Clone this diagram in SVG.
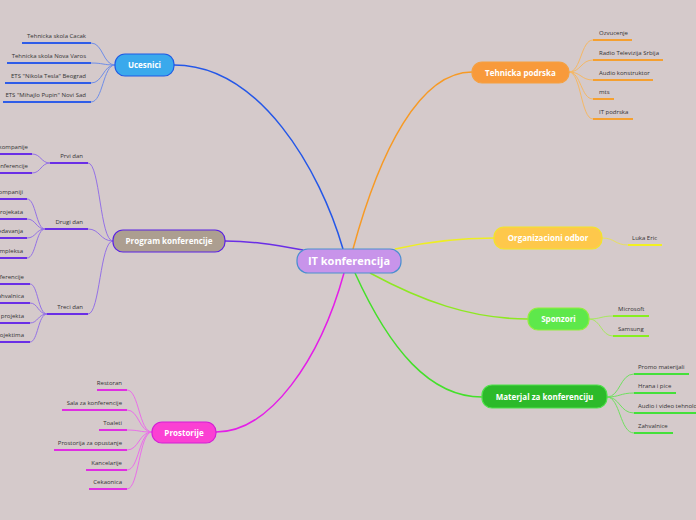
<svg xmlns="http://www.w3.org/2000/svg" width="696" height="520" viewBox="0 0 696 520">
<style>
.nt{font-family:"Open Sans","Noto Sans",sans-serif;font-weight:bold;font-size:8px;fill:#fff;text-anchor:middle}
.lt{font-family:"Open Sans","Noto Sans",sans-serif;font-size:6px;fill:#333}
.e{text-anchor:end}
.main{fill:none;stroke-width:1.5}
.sub{fill:none;stroke-width:1}
.ul{fill:none;stroke-width:2}
</style>
<rect width="696" height="520" fill="#d5cacb"/>
<g id="connectors">
  <path class="main" stroke="#2457e8" d="M343,249 C320,170 260,65 174,65"/>
  <path class="main" stroke="#f79a25" d="M353,249 C380,150 420,72 472,72"/>
  <path class="main" stroke="#6a2ee6" d="M303,250 C270,244 250,241 225,241"/>
  <path class="main" stroke="#eeee22" d="M395,249 C430,241 460,238 494,238"/>
  <path class="main" stroke="#8ee822" d="M370,273 C420,300 470,319 528,319"/>
  <path class="main" stroke="#44e02a" d="M355,273 C390,350 430,397 482,397"/>
  <path class="main" stroke="#e41ee8" d="M344,273 C320,360 270,432 216,432"/>
  <g stroke="#6f8ee8" class="sub">
    <path d="M115,65 C103,65 103,43 91,43"/>
    <path d="M115,65 C103,65 103,63 91,63"/>
    <path d="M115,65 C103,65 103,83 91,83"/>
    <path d="M115,65 C103,65 103,102 91,102"/>
  </g>
  <g stroke="#2f5de8" class="ul">
    <path d="M22,43 H91"/><path d="M7,63 H91"/><path d="M5,83 H91"/><path d="M3,102 H91"/>
  </g>
  <g stroke="#9471e6" class="sub">
    <path d="M113,241 C100,241 100,163 88,163"/>
    <path d="M113,241 C100,241 100,229 88,229"/>
    <path d="M113,241 C100,241 100,314 88,314"/>
    <path d="M50,163 C41,163 41,154 32,154"/>
    <path d="M50,163 C41,163 41,173 32,173"/>
    <path d="M45,229 C36,229 36,199 27,199"/>
    <path d="M45,229 C36,229 36,219 27,219"/>
    <path d="M45,229 C36,229 36,238 27,238"/>
    <path d="M45,229 C36,229 36,258 27,258"/>
    <path d="M47,314 C38,314 38,284 30,284"/>
    <path d="M47,314 C38,314 38,303 30,303"/>
    <path d="M47,314 C38,314 38,323 30,323"/>
    <path d="M47,314 C38,314 38,342 30,342"/>
  </g>
  <g stroke="#6a2ee6" class="ul">
    <path d="M50,163 H88"/><path d="M45,229 H88"/><path d="M47,314 H88"/>
    <path d="M0,154 H32"/><path d="M0,173 H32"/>
    <path d="M0,199 H27"/><path d="M0,219 H27"/><path d="M0,238 H27"/><path d="M0,258 H27"/>
    <path d="M0,284 H30"/><path d="M0,303 H30"/><path d="M0,323 H30"/><path d="M0,342 H30"/>
  </g>
  <g stroke="#ea6eea" class="sub">
    <path d="M152,432 C139,432 139,390 127,390"/>
    <path d="M152,432 C139,432 139,410 127,410"/>
    <path d="M152,432 C139,432 139,430 127,430"/>
    <path d="M152,432 C139,432 139,450 127,450"/>
    <path d="M152,432 C139,432 139,470 127,470"/>
    <path d="M152,432 C139,432 139,489 127,489"/>
  </g>
  <g stroke="#e02ee2" class="ul">
    <path d="M97,390 H127"/><path d="M62,410 H127"/><path d="M99,430 H127"/>
    <path d="M54,450 H127"/><path d="M86,470 H127"/><path d="M89,489 H127"/>
  </g>
  <g stroke="#f5b865" class="sub">
    <path d="M569,72 C581,72 581,40 593,40"/>
    <path d="M569,72 C581,72 581,60 593,60"/>
    <path d="M569,72 C581,72 581,80 593,80"/>
    <path d="M569,72 C581,72 581,99 593,99"/>
    <path d="M569,72 C581,72 581,119 593,119"/>
  </g>
  <g stroke="#f5a030" class="ul">
    <path d="M593,40 H632"/><path d="M593,60 H663"/><path d="M593,80 H653"/><path d="M593,99 H614"/><path d="M593,119 H633"/>
  </g>
  <path class="sub" stroke="#e8e060" d="M602,238 C615,238 615,245 628,245"/>
  <path class="ul" stroke="#f2f020" d="M628,245 H662"/>
  <g stroke="#a8e860" class="sub">
    <path d="M589,319 C601,319 601,316 613,316"/>
    <path d="M589,319 C601,319 601,336 613,336"/>
  </g>
  <g stroke="#88ee20" class="ul">
    <path d="M613,316 H649"/><path d="M613,336 H649"/>
  </g>
  <g stroke="#70e060" class="sub">
    <path d="M607,397 C620,397 620,374 634,374"/>
    <path d="M607,397 C620,397 620,393 634,393"/>
    <path d="M607,397 C620,397 620,413 634,413"/>
    <path d="M607,397 C620,397 620,433 634,433"/>
  </g>
  <g stroke="#44e03a" class="ul">
    <path d="M634,374 H689"/><path d="M634,393 H676"/><path d="M634,413 H696"/><path d="M634,433 H673"/>
  </g>
</g>
<g id="n-center"><rect x="297" y="249" width="104" height="24" rx="11" fill="#c894ea" stroke="#4a8fd0" stroke-width="1.2"/><text class="nt" x="349" y="265" style="font-size:11px">IT konferencija</text></g>
<g id="n-ucesnici"><rect x="115" y="54" width="59" height="22" rx="10" fill="#3aa9ec" stroke="#1f5be5" stroke-width="1.2"/><text class="nt" x="144.5" y="68">Ucesnici</text></g>
<g id="n-program"><rect x="113" y="230" width="112" height="22" rx="10" fill="#ac9e90" stroke="#5b22e3" stroke-width="1.2"/><text class="nt" x="169" y="244">Program konferencije</text></g>
<g id="n-prostorije"><rect x="152" y="422" width="64" height="21" rx="10" fill="#fb40d3" stroke="#d31fd6" stroke-width="1.2"/><text class="nt" x="184" y="435.5">Prostorije</text></g>
<g id="n-tehnicka"><rect x="472" y="62" width="97" height="21" rx="10" fill="#f89a3b" stroke="#f5a040" stroke-width="1.2"/><text class="nt" x="520.5" y="75.5">Tehnicka podrska</text></g>
<g id="n-org"><rect x="494" y="227" width="108" height="22" rx="10" fill="#fec84b" stroke="#f2e52a" stroke-width="1.2"/><text class="nt" x="548" y="241">Organizacioni odbor</text></g>
<g id="n-sponzori"><rect x="528" y="308" width="61" height="22" rx="10" fill="#5ee84b" stroke="#92ee3e" stroke-width="1.2"/><text class="nt" x="558.5" y="322">Sponzori</text></g>
<g id="n-materjal"><rect x="482" y="385" width="125" height="23" rx="10" fill="#2cba2a" stroke="#4ee24a" stroke-width="1.2"/><text class="nt" x="544.5" y="399.5">Materjal za konferenciju</text></g>
<g id="leaves-ucesnici" class="lt">
  <text class="e" x="86" y="38">Tehnicka skola Cacak</text>
  <text class="e" x="86" y="58">Tehnicka skola Nova Varos</text>
  <text class="e" x="86" y="78">ETS "Nikola Tesla" Beograd</text>
  <text class="e" x="86" y="97">ETS "Mihajlo Pupin" Novi Sad</text>
</g>
<g id="leaves-program" class="lt">
  <text class="e" x="83" y="158">Prvi dan</text>
  <text class="e" x="83" y="224">Drugi dan</text>
  <text class="e" x="83" y="309">Treci dan</text>
  <text class="e" x="28" y="149">kompanije</text>
  <text class="e" x="28" y="168">konferencije</text>
  <text class="e" x="23" y="194">kompaniji</text>
  <text class="e" x="23" y="214">projekata</text>
  <text class="e" x="23" y="233">predavanja</text>
  <text class="e" x="23" y="253">kompleksa</text>
  <text class="e" x="24" y="279">konferencije</text>
  <text class="e" x="24" y="298">zahvalnica</text>
  <text class="e" x="24" y="318">projekta</text>
  <text class="e" x="24" y="337">projektima</text>
</g>
<g id="leaves-prostorije" class="lt">
  <text class="e" x="122" y="385">Restoran</text>
  <text class="e" x="122" y="405">Sala za konferencije</text>
  <text class="e" x="122" y="425">Toaleti</text>
  <text class="e" x="122" y="445">Prostorija za opustanje</text>
  <text class="e" x="122" y="465">Kancelarije</text>
  <text class="e" x="122" y="484">Cekaonica</text>
</g>
<g id="leaves-tehnicka" class="lt">
  <text x="599" y="35">Ozvucenje</text>
  <text x="599" y="55">Radio Televizija Srbija</text>
  <text x="599" y="75">Audio konstruktor</text>
  <text x="599" y="94">mts</text>
  <text x="599" y="114">IT podrska</text>
</g>
<g id="leaves-org" class="lt"><text x="632" y="240">Luka Eric</text></g>
<g id="leaves-sponzori" class="lt">
  <text x="618" y="311">Microsoft</text>
  <text x="618" y="331">Samsung</text>
</g>
<g id="leaves-materjal" class="lt">
  <text x="638" y="369">Promo materijali</text>
  <text x="638" y="388">Hrana i pice</text>
  <text x="638" y="408">Audio i video tehnologija</text>
  <text x="638" y="428">Zahvalnice</text>
</g>
</svg>
